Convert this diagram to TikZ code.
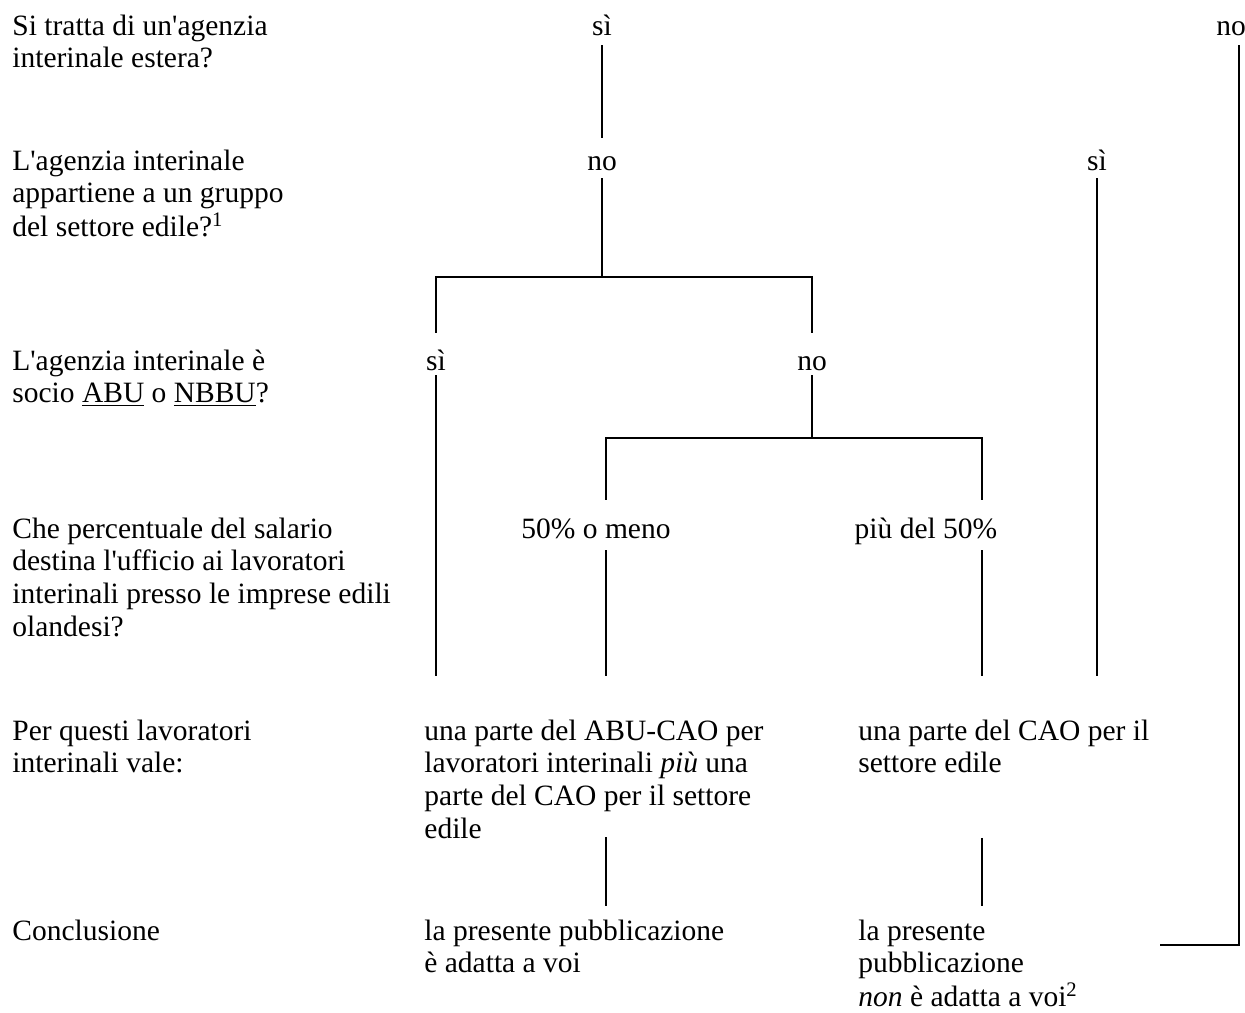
\documentclass[tikz,border=0pt]{standalone}
\usepackage{fontspec}
\setmainfont{Liberation Serif}
\usetikzlibrary{calc}

\newcommand{\txtlines}[1]{\begin{tabular}[t]{@{}l@{}}#1\end{tabular}}

\tikzset{
	txt/.style={anchor=base west, inner sep=0pt, font=\fontsize{14.75}{16.35}\selectfont},
	lbl/.style={anchor=base, inner sep=0pt, text height=10pt, text depth=0pt, font=\fontsize{14.75}{16.35}\selectfont},
	conn/.style={line width=0.9pt},
}

\begin{document}
\begin{tikzpicture}[x=0.5pt,y=-0.5pt]
				\useasboundingbox (0,0) rectangle (1245,1012);
				
				% questions
				\node[txt] (q1) at (12,35) {\txtlines{Si tratta di un\textquotesingle agenzia\\interinale estera?}};
				\node[txt] (q2) at (12,170) {\txtlines{L\textquotesingle agenzia interinale\\appartiene a un gruppo\\del settore edile?\textsuperscript{1}}};
				\node[txt] (q3) at (12,370) {\txtlines{L\textquotesingle agenzia interinale è\\socio \underline{ABU} o \underline{NBBU}?}};
				\node[txt] (q4) at (12,538) {\txtlines{Che percentuale del salario\\destina l\textquotesingle ufficio ai lavoratori\\interinali presso le imprese edili\\olandesi?}};
				\node[txt] (q5) at (12,740) {\txtlines{Per questi lavoratori\\interinali vale:}};
				\node[txt] (q6) at (12,940) {Conclusione};
				
				% answers
				\node[lbl] (s1) at (602,35) {sì};
				\node[lbl] (n1) at (1231,35) {no};
				\node[lbl] (n2) at (602,170) {no};
				\node[lbl] (s2) at (1097,170) {sì};
				\node[lbl] (s3) at (436,370) {sì};
				\node[lbl] (n3) at (812,370) {no};
				\node[lbl] (p4a) at (596,538) {50\% o meno};
				\node[lbl] (p4b) at (926,538) {più del 50\%};
				
				% outcomes
				\node[txt] (a5) at (424,740) {\txtlines{una parte del ABU-CAO per\\lavoratori interinali \textit{più} una\\parte del CAO per il settore\\edile}};
				\node[txt] (b5) at (858,740) {\txtlines{una parte del CAO per il\\settore edile}};
				\node[txt] (a6) at (424,940) {\txtlines{la presente pubblicazione\\è adatta a voi}};
				\node[txt] (b6) at (858,940) {\txtlines{la presente\\pubblicazione\\\textit{non} è adatta a voi\textsuperscript{2}}};
				
				\coordinate (j2) at (602,277);
				\coordinate (j4) at (812,438);
				\coordinate (colA) at (606,0);
				\coordinate (colB) at (982,0);
				\coordinate (colR) at (1239,0);
				\coordinate (e6) at (1160,945);
				
				\draw[conn, shorten <=5pt, shorten >=6pt] (s1.south) -- (n2.north);
				\draw[conn, shorten <=4pt] (n2.south) -- (j2);
				\draw[conn, shorten <=8.5pt, shorten >=8.5pt] (s3.north) |- (j2) -| (n3.north);
				\draw[conn, shorten <=2.5pt] (n3.south) -- (j4);
				\draw[conn, shorten <=9pt, shorten >=9pt] (p4a.north -| colA) |- (j4) -| (p4b.north -| colB);
				
				\draw[conn, shorten <=2.5pt, shorten >=20.5pt] (s3.south) -- (s3.south |- a5.north);
				\draw[conn, shorten <=6pt, shorten >=20.5pt] (p4a.south -| colA) -- (a5.north -| colA);
				\draw[conn, shorten <=6pt, shorten >=20.5pt] (p4b.south -| colB) -- (b5.north -| colB);
				\draw[conn, shorten <=4pt, shorten >=20.5pt] (s2.south) -- (s2.south |- b5.north);
				
				\draw[conn, shorten <=-5.5pt, shorten >=5.5pt] (a5.south -| colA) -- (a6.north -| colA);
				\draw[conn, shorten <=27.5pt, shorten >=5.5pt] (b5.south -| colB) -- (b6.north -| colB);
				\draw[conn, shorten <=5pt] (n1.south -| colR) |- (e6);
			\end{tikzpicture}
\end{document}
